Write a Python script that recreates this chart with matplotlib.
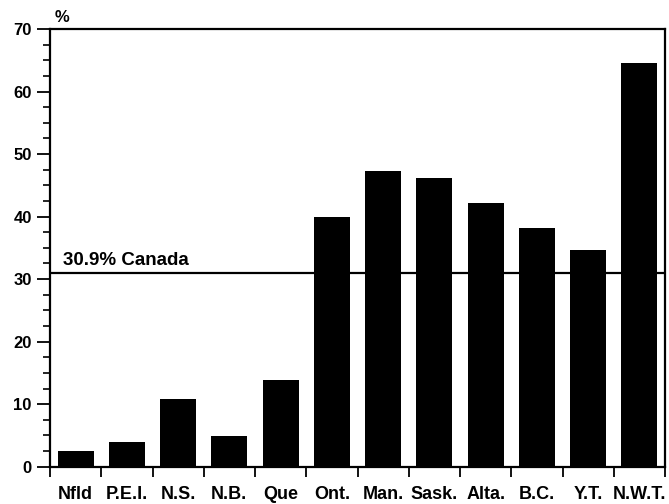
import numpy as np
import matplotlib
matplotlib.use('Agg')
import matplotlib.pyplot as plt
from matplotlib.ticker import MultipleLocator, FixedLocator, NullFormatter

# data
provinces = ['Nfld', 'P.E.I.', 'N.S.', 'N.B.', 'Que', 'Ont.', 'Man.', 'Sask.', 'Alta.', 'B.C.', 'Y.T.', 'N.W.T.']
percent = [2.5, 4.0, 10.8, 4.9, 13.8, 40.0, 47.3, 46.2, 42.1, 38.2, 34.7, 64.6]
canada = 30.9

plt.rcParams['font.family'] = ['Liberation Sans', 'DejaVu Sans']
narrow = ['Liberation Sans Narrow', 'Liberation Sans', 'DejaVu Sans']

fig = plt.figure(figsize=(6.69, 5.04), dpi=100)
ax = fig.add_axes([50 / 669, 37.3 / 504, 615 / 669, 437.7 / 504])

x = np.arange(len(provinces))
ax.bar(x, percent, width=0.7, color='black', zorder=2)
ax.axhline(canada, color='black', lw=1.6, zorder=3)
ax.text(-0.245, canada + 1.4, f'{canada}% Canada', fontsize=13.5, fontweight='bold', va='baseline', ha='left')

ax.set_xlim(-0.5, len(provinces) - 0.5)
ax.set_ylim(0, 70)

# boundary ticks without labels, labels centred under bars
ax.xaxis.set_major_locator(FixedLocator(np.arange(-0.5, len(provinces), 1.0)))
ax.xaxis.set_major_formatter(NullFormatter())
ax.xaxis.set_minor_locator(FixedLocator(x))
ax.set_xticklabels(provinces, minor=True, fontsize=13, fontweight='bold', family=narrow)
ax.tick_params(axis='x', which='major', length=7.5, width=1.3, direction='out')
ax.tick_params(axis='x', which='minor', length=0, pad=14)

ax.yaxis.set_major_locator(MultipleLocator(10))
ax.yaxis.set_minor_locator(MultipleLocator(2.5))
ax.tick_params(axis='y', which='major', length=9.5, width=1.3, labelsize=12, pad=3.6)
ax.tick_params(axis='y', which='minor', length=5, width=1.2)
for lab in ax.get_yticklabels():
    lab.set_fontweight('bold')

for s in ax.spines.values():
    s.set_linewidth(1.6)

ax.text(0.008, 1.008, '%', transform=ax.transAxes, fontsize=12, fontweight='bold', va='bottom', ha='left')

fig.savefig('out.png', dpi=100)
